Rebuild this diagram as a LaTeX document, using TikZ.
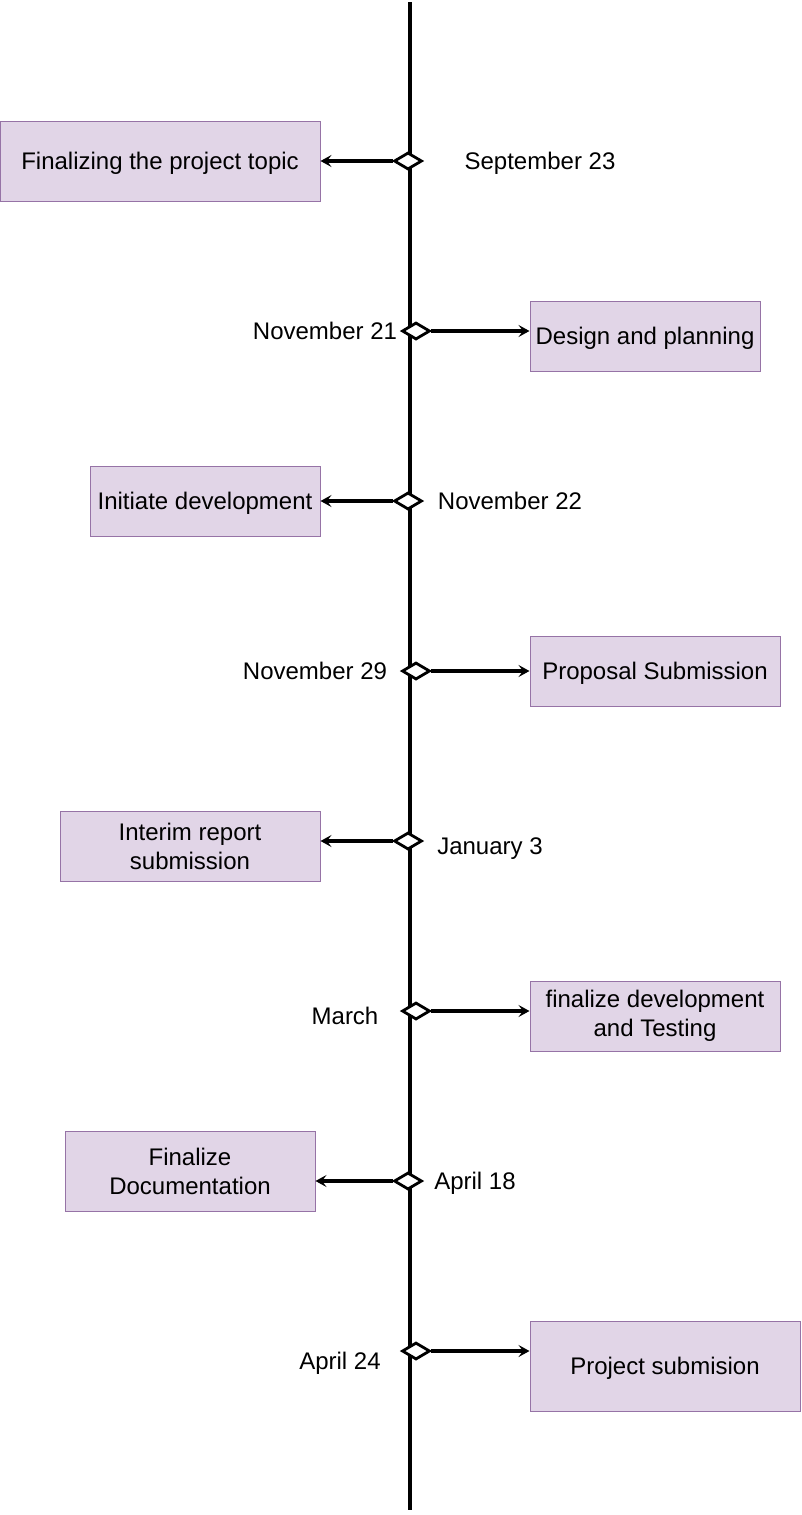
\documentclass[tikz,border=0pt]{standalone}
\usepackage{fontspec}
\setmainfont{Liberation Sans}
\usetikzlibrary{shapes.geometric,arrows.meta}
\definecolor{boxFill}{HTML}{E1D5E7}
\definecolor{boxLine}{HTML}{9673A6}
\tikzset{>={Stealth[length=11pt,width=12pt,inset=4.5pt]}}
\tikzset{
  event/.style={draw=boxLine,fill=boxFill,line width=1pt,align=center,inner sep=0pt,font=\fontsize{24}{29}\selectfont},
  date/.style={inner sep=0pt,font=\fontsize{24}{29}\selectfont},
  one line/.style={text height=19pt,text depth=2pt},
  mark diamond/.style={diamond,draw,fill=white,line width=2.8pt,inner sep=0pt,minimum width=28pt,minimum height=17pt},
  link/.style={->,line width=3.2pt}
}
\begin{document}
\begin{tikzpicture}[x=1pt,y=-1pt]
  \useasboundingbox (0,0) rectangle (802,1515);
  % the time line
  \coordinate (top) at (410,2);
  \coordinate (bot) at (410,1510);
  \draw[line width=3.2pt] (top) -- (bot);
  % boxes
  \node[event,one line,minimum width=320pt,minimum height=80pt] (b1) at (160,161) {Finalizing the project topic};
  \node[event,one line,minimum width=230pt,minimum height=70pt] (b2) at (645,336) {Design and planning};
  \node[event,one line,minimum width=230pt,minimum height=70pt] (b3) at (205,501) {Initiate development};
  \node[event,one line,minimum width=250pt,minimum height=70pt] (b4) at (655,671) {Proposal Submission};
  \node[event,minimum width=260pt,minimum height=70pt] (b5) at (190,846) {Interim report\\submission};
  \node[event,minimum width=250pt,minimum height=70pt] (b6) at (655,1016) {finalize development\\and Testing};
  \node[event,minimum width=250pt,minimum height=80pt] (b7) at (190,1171) {Finalize\\Documentation};
  \node[event,one line,minimum width=270pt,minimum height=90pt] (b8) at (665,1366) {Project submision};
  % diamonds on the line
  \node[mark diamond] (d1) at (408,161) {};
  \node[mark diamond] (d2) at (416,331) {};
  \node[mark diamond] (d3) at (408,501) {};
  \node[mark diamond] (d4) at (416,671) {};
  \node[mark diamond] (d5) at (408,841) {};
  \node[mark diamond] (d6) at (416,1011) {};
  \node[mark diamond] (d7) at (408,1181) {};
  \node[mark diamond] (d8) at (416,1351) {};
  % dates
  \node[date,one line] (t1) at (540,161) {September 23};
  \node[date,one line] (t2) at (325,331) {November 21};
  \node[date,one line] (t3) at (510,501) {November 22};
  \node[date,one line] (t4) at (315,671) {November 29};
  \node[date,one line] (t5) at (490,846) {January 3};
  \node[date,one line] (t6) at (345,1016) {March};
  \node[date,one line] (t7) at (475,1181) {April 18};
  \node[date,one line] (t8) at (340,1361) {April 24};
  % arrows
  \draw[link] (d1.west) -- (d1 -| b1.east);
  \draw[link] (d2.east) -- (d2 -| b2.west);
  \draw[link] (d3.west) -- (d3 -| b3.east);
  \draw[link] (d4.east) -- (d4 -| b4.west);
  \draw[link] (d5.west) -- (d5 -| b5.east);
  \draw[link] (d6.east) -- (d6 -| b6.west);
  \draw[link] (d7.west) -- (d7 -| b7.east);
  \draw[link] (d8.east) -- (d8 -| b8.west);
\end{tikzpicture}
\end{document}
